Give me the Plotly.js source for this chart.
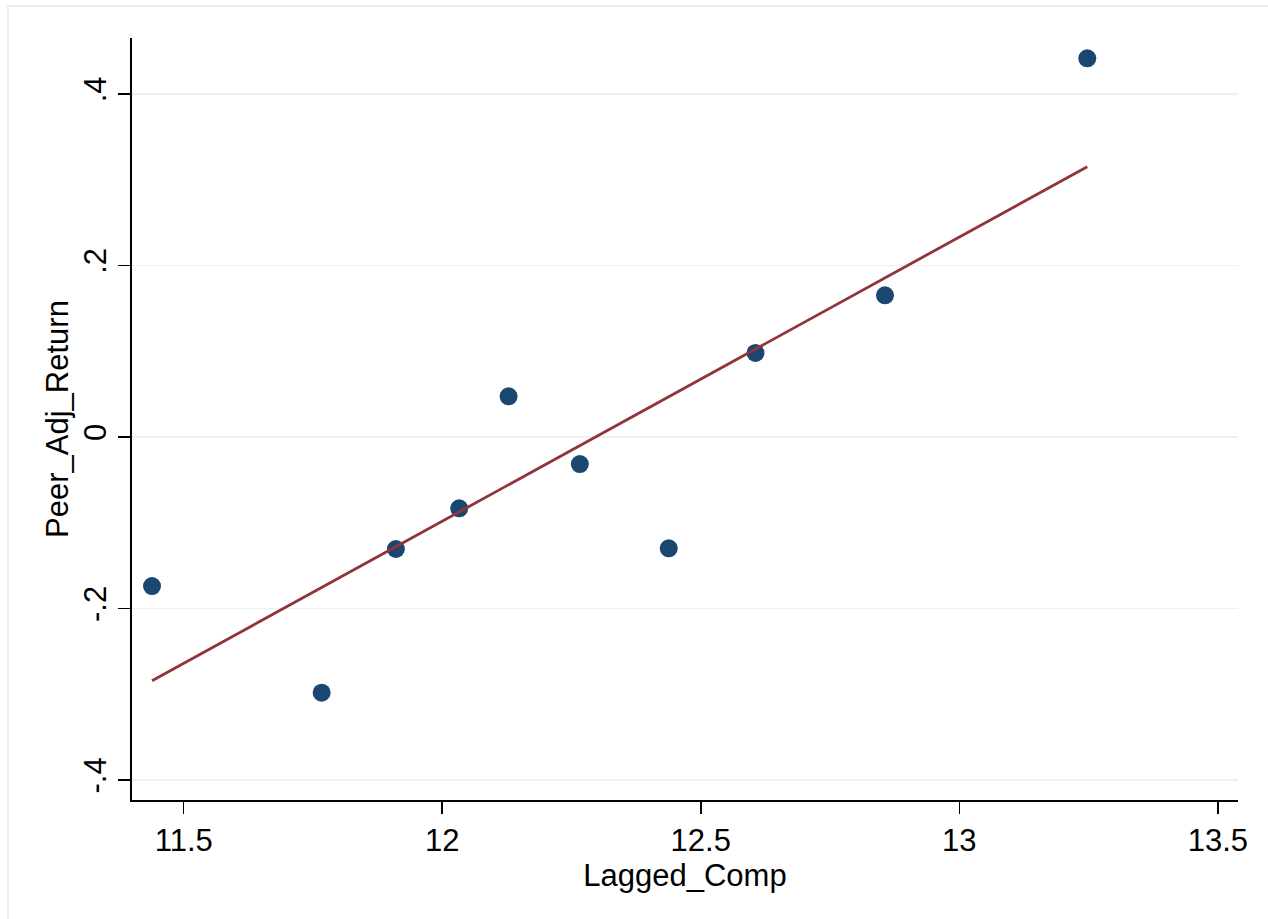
<!DOCTYPE html>
<html>
<head>
<meta charset="utf-8">
<script src="https://cdn.plot.ly/plotly-3.0.1.min.js"></script>
<style>
  html, body { margin: 0; padding: 0; background: #ffffff; }
  #chart { width: 1268px; height: 919px; }
</style>
</head>
<body>
<div id="chart"></div>
<script>
// Scatter data
const laggedComp = [11.4387, 11.7668, 11.9104, 12.0328, 12.1283, 12.2661, 12.4381, 12.6058, 12.8563, 13.2475];
const peerAdjReturn = [-0.1738, -0.2982, -0.1306, -0.0831, 0.0475, -0.0315, -0.1298, 0.0980, 0.1652, 0.4416];

// Fitted line endpoints
const fitX = [11.4387, 13.2475];
const fitY = [-0.2842, 0.3152];

// Tick labels
const xTickVals = [11.5, 12, 12.5, 13, 13.5];
const xTickText = ["11.5", "12", "12.5", "13", "13.5"];
const yTickVals = [-0.4, -0.2, 0, 0.2, 0.4];
const yTickText = ["-.4", "-.2", "0", ".2", ".4"];

const FONT = "Liberation Sans, Arial, Helvetica, sans-serif";

const traces = [
  {
    x: laggedComp, y: peerAdjReturn,
    type: "scatter", mode: "markers",
    marker: { color: "#1a476f", size: 18, line: { width: 0 } },
    hoverinfo: "x+y", showlegend: false
  },
  {
    x: fitX, y: fitY,
    type: "scatter", mode: "lines",
    line: { color: "#90353b", width: 2.8 },
    hoverinfo: "skip", showlegend: false
  }
];

const layout = {
  width: 1268, height: 919,
  margin: { l: 132, r: 30, t: 38, b: 119 },
  paper_bgcolor: "#ffffff",
  plot_bgcolor: "#ffffff",
  font: { family: FONT, size: 31, color: "#000000" },
  showlegend: false,
  xaxis: {
    range: [11.400, 13.539],
    tickmode: "array", tickvals: xTickVals, ticktext: xTickText,
    ticks: "outside", ticklen: 12, tickwidth: 1.5, tickcolor: "#000000",
    showline: true, linecolor: "#000000", linewidth: 2,
    showgrid: false, zeroline: false,
    tickfont: { family: FONT, size: 31, color: "#000000" },
    title: { text: "Lagged_Comp", font: { family: FONT, size: 31, color: "#000000" }, standoff: 0 }
  },
  yaxis: {
    range: [-0.4233, 0.4653],
    tickmode: "array", tickvals: yTickVals, ticktext: yTickText,
    tickangle: -90,
    ticks: "outside", ticklen: 12, tickwidth: 1.5, tickcolor: "#000000",
    showline: true, linecolor: "#000000", linewidth: 2,
    showgrid: true, gridcolor: "#eaf2f3", gridwidth: 1.5,
    zeroline: false,
    tickfont: { family: FONT, size: 31, color: "#000000" },
    title: { text: "Peer_Adj_Return", font: { family: FONT, size: 31, color: "#000000" }, standoff: 0 }
  },
  shapes: [
    {
      type: "rect", xref: "paper", yref: "paper",
      x0: -0.1121, x1: 1.3, y0: -0.5, y1: 1.042,
      line: { color: "#e9eff3", width: 2 },
      fillcolor: "rgba(0,0,0,0)", layer: "below"
    }
  ]
};

Plotly.newPlot("chart", traces, layout, { displayModeBar: false, staticPlot: true });
</script>
</body>
</html>
